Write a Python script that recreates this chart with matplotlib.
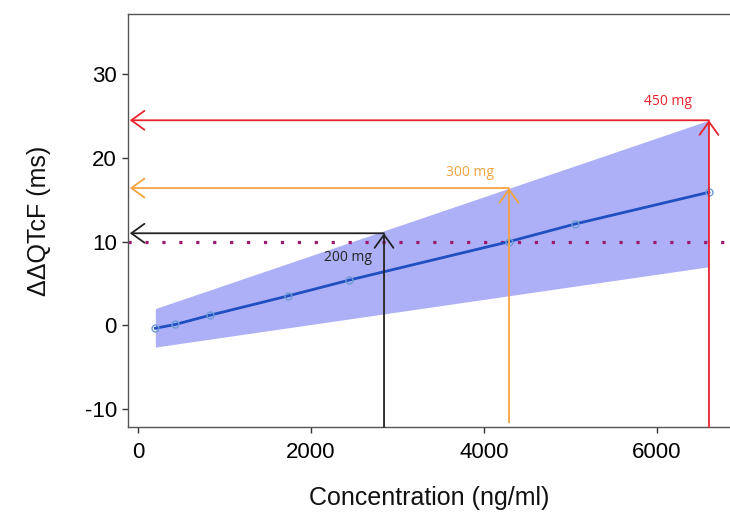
import matplotlib
matplotlib.use("Agg")
import matplotlib.pyplot as plt
import numpy as np

# model prediction of ddQTcF vs concentration
conc = [200, 430, 830, 1730, 2440, 4290, 5050, 6600]
ddqtcf = [-0.35, 0.1, 1.2, 3.5, 5.4, 10.0, 12.1, 15.9]

# 90% CI band edges (straight lines between the two ends)
band_conc = [200, 6600]
band_lower = [-2.6, 7.0]
band_upper = [2.0, 24.5]

# dose markers: mean Cmax and upper CI at that Cmax
doses = ["200 mg", "300 mg", "450 mg"]
dose_conc = [2844, 4289, 6601]
dose_upper = [11.0, 16.4, 24.5]
dose_colors = ["#222222", "#f4a340", "#e8222e"]
label_pos = [(2430, 8.1), (3840, 18.3), (6130, 26.8)]

threshold = 10

XMIN, XMAX = -116, 6844
YMIN, YMAX = -12.15, 37.2

plt.rcParams["font.family"] = ["Liberation Sans", "DejaVu Sans"]
plt.rcParams["axes.unicode_minus"] = False

fig = plt.figure(figsize=(7.3, 5.14), dpi=100)
ax = fig.add_axes([128 / 730, 1 - 427 / 514, 1 - 128 / 730, (427 - 14) / 514])

ax.fill_between(band_conc, band_lower, band_upper, color="#aeb0f7", lw=0, zorder=1)
ax.axhline(threshold, color="#9c1a6e", lw=2.3, dashes=(1, 4.3), zorder=2)
ax.plot(conc, ddqtcf, color="#1f4fc0", lw=2, zorder=4)
ax.plot(conc, ddqtcf, "o", ms=5, mfc="none", mec="#6d9bd6", mew=1, zorder=5)

for name, xc, yu, col, (tx, ty) in zip(doses, dose_conc, dose_upper, dose_colors, label_pos):
    props = dict(arrowstyle="->,head_length=0.47,head_width=0.34", mutation_scale=20,
                 color=col, lw=1.3, shrinkA=0, shrinkB=0)
    ystart = -11.6 if col == "#f4a340" else YMIN
    ax.annotate("", xy=(xc, yu), xytext=(xc, ystart), arrowprops=props, zorder=6)
    ax.annotate("", xy=(-95, yu), xytext=(xc, yu), arrowprops=props, zorder=6)
    ax.text(tx, ty, name, color=col, fontsize=10, ha="center", va="center",
            family=["Open Sans", "DejaVu Sans"])

ax.set_xlim(XMIN, XMAX)
ax.set_ylim(YMIN, YMAX)
ax.set_xticks([0, 2000, 4000, 6000])
ax.set_yticks([-10, 0, 10, 20, 30])
ax.tick_params(labelsize=16, length=4, width=1, color="#333333", pad=4)
ax.tick_params(axis="x", pad=7)
for s in ["left", "bottom", "top"]:
    ax.spines[s].set_color("#555555")
    ax.spines[s].set_linewidth(1)
ax.spines["right"].set_visible(False)

ax.set_xlabel("Concentration (ng/ml)", fontsize=18, labelpad=16, color="#111111")
ax.set_ylabel("ΔΔQTcF (ms)", fontsize=18, labelpad=24, color="#111111")

fig.savefig("out.png", dpi=100)
